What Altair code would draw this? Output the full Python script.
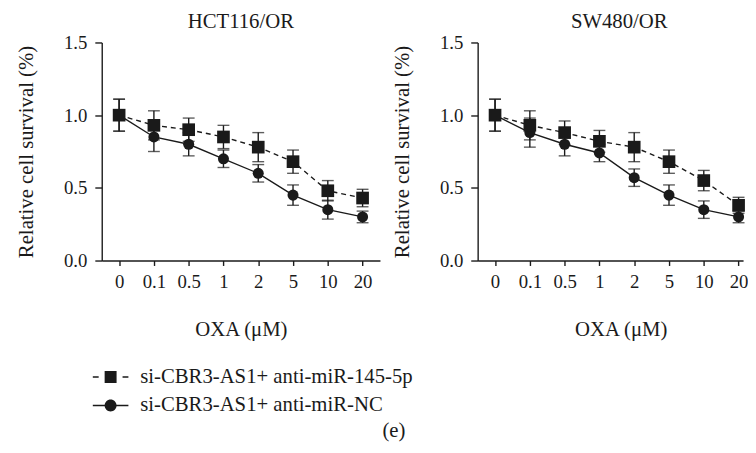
import altair as alt
import pandas as pd

doses = ["0", "0.1", "0.5", "1", "2", "5", "10", "20"]
series = ["si-CBR3-AS1+ anti-miR-145-5p", "si-CBR3-AS1+ anti-miR-NC"]
panels = ["HCT116/OR", "SW480/OR"]

hct_sq = [1.00, 0.93, 0.90, 0.85, 0.78, 0.68, 0.48, 0.43]
hct_sq_err = [0.11, 0.10, 0.08, 0.08, 0.10, 0.08, 0.07, 0.06]
hct_ci = [1.00, 0.85, 0.80, 0.70, 0.60, 0.45, 0.35, 0.30]
hct_ci_err = [0.11, 0.10, 0.08, 0.06, 0.06, 0.07, 0.065, 0.04]

sw_sq = [1.00, 0.93, 0.88, 0.82, 0.78, 0.68, 0.55, 0.38]
sw_sq_err = [0.11, 0.10, 0.08, 0.075, 0.10, 0.08, 0.07, 0.055]
sw_ci = [1.00, 0.88, 0.80, 0.74, 0.57, 0.45, 0.35, 0.30]
sw_ci_err = [0.11, 0.10, 0.08, 0.06, 0.06, 0.07, 0.06, 0.04]

rows = []
for panel, sq, sqe, ci, cie in [
    (panels[0], hct_sq, hct_sq_err, hct_ci, hct_ci_err),
    (panels[1], sw_sq, sw_sq_err, sw_ci, sw_ci_err),
]:
    for d, m, e in zip(doses, sq, sqe):
        rows.append(dict(panel=panel, dose=d, series=series[0], mean=m, lo=m - e, hi=m + e))
    for d, m, e in zip(doses, ci, cie):
        rows.append(dict(panel=panel, dose=d, series=series[1], mean=m, lo=m - e, hi=m + e))
df = pd.DataFrame(rows)

FONT = "Liberation Serif"
INK = "#1a1a1a"
TITLE_SIZE = 21
LABEL_SIZE = 19

# legend glyphs (line + marker), drawn as filled shapes; symbol radius r = sqrt(484)/2 = 11
sq_path = ("M-1.64,-0.065H-1.1V0.065H-1.64Z M1.1,-0.065H1.64V0.065H1.1Z "
           "M-0.55,-0.55H0.55V0.55H-0.55Z")
ci_path = ("M-1.64,-0.065H-0.45V0.065H-1.64Z M0.45,-0.065H1.64V0.065H0.45Z "
           "M0.55,0A0.55,0.55 0 1,1 -0.55,0A0.55,0.55 0 1,1 0.55,0Z")

YSCALE = alt.Scale(domain=[0, 1.5], padding=0, nice=False)


def panel_chart(name, width, pad, align, title_dx, xtitle_x):
    base = alt.Chart(df).transform_filter(alt.datum.panel == name)
    x = alt.X(
        "dose:O",
        sort=doses,
        scale=alt.Scale(type="point", padding=pad, align=align),
        axis=alt.Axis(title="OXA (μM)", labelAngle=0, titlePadding=28, labelPadding=7,
                      titleX=xtitle_x, titleAlign="center"),
    )
    y = alt.Y(
        "mean:Q",
        scale=YSCALE,
        axis=alt.Axis(values=[0, 0.5, 1.0, 1.5], format=".1f", tickSize=7, labelPadding=8,
                      title="Relative cell survival (%)", titlePadding=27),
    )
    lo = alt.Y("lo:Q", scale=YSCALE)
    hi = alt.Y("hi:Q", scale=YSCALE)
    dash_line = base.transform_filter(alt.datum.series == series[0]).mark_line(
        color=INK, strokeWidth=1.4, strokeDash=[5, 4]
    ).encode(x=x, y=y)
    solid_line = base.transform_filter(alt.datum.series == series[1]).mark_line(
        color=INK, strokeWidth=1.4
    ).encode(x=x, y=y)
    bars = base.mark_rule(color=INK, strokeWidth=1.4).encode(x=x, y=lo, y2="hi:Q")
    caps_lo = base.mark_tick(color=INK, thickness=1.4, size=12, orient="horizontal").encode(x=x, y=lo)
    caps_hi = base.mark_tick(color=INK, thickness=1.4, size=12, orient="horizontal").encode(x=x, y=hi)
    circles = base.transform_filter(alt.datum.series == series[1]).mark_circle(
        color=INK, size=125, opacity=1
    ).encode(x=x, y=y)
    squares = base.transform_filter(alt.datum.series == series[0]).mark_square(
        color=INK, size=165, opacity=1
    ).encode(x=x, y=y)
    leg = base.mark_point(filled=True, fill=INK, opacity=0).encode(
        x=x, y=y,
        shape=alt.Shape(
            "series:N",
            scale=alt.Scale(domain=series, range=[sq_path, ci_path]),
            legend=alt.Legend(
                title=None, orient="none", legendX=-3, legendY=327, padding=0,
                symbolSize=484, symbolOpacity=1, symbolFillColor=INK,
                labelFont=FONT, labelFontSize=TITLE_SIZE, labelColor=INK,
                labelLimit=600, rowPadding=7, labelOffset=18,
            ),
        ),
    )
    return alt.layer(bars, caps_lo, caps_hi, solid_line, dash_line, circles, squares, leg).properties(
        width=width, height=221,
        title=alt.TitleParams(name, fontSize=TITLE_SIZE, font=FONT, fontWeight="normal",
                              color=INK, offset=2, dx=title_dx),
    )


chart = alt.hconcat(
    panel_chart(panels[0], 282, 0.5, 0.5, 0, 141),
    panel_chart(panels[1], 269, 0.3145, 0.795, 9, 145),
    spacing=12,
).resolve_scale(shape="shared").resolve_legend(shape="shared").properties(
    title=alt.TitleParams("(e)", orient="bottom", anchor="middle", fontSize=TITLE_SIZE,
                          font=FONT, fontWeight="normal", color=INK, offset=5, dx=12),
    padding={"left": 8, "top": 0, "right": 0, "bottom": 0},
).configure_view(stroke=None).configure_axis(
    labelFont=FONT, titleFont=FONT, labelFontSize=LABEL_SIZE, titleFontSize=TITLE_SIZE,
    labelColor=INK, titleColor=INK, titleFontWeight="normal",
    domainColor=INK, tickColor=INK, domainWidth=1.4, tickWidth=1.4, tickSize=5,
    grid=False,
)

chart.save("out.html", embed_options={"renderer": "svg", "actions": False})
